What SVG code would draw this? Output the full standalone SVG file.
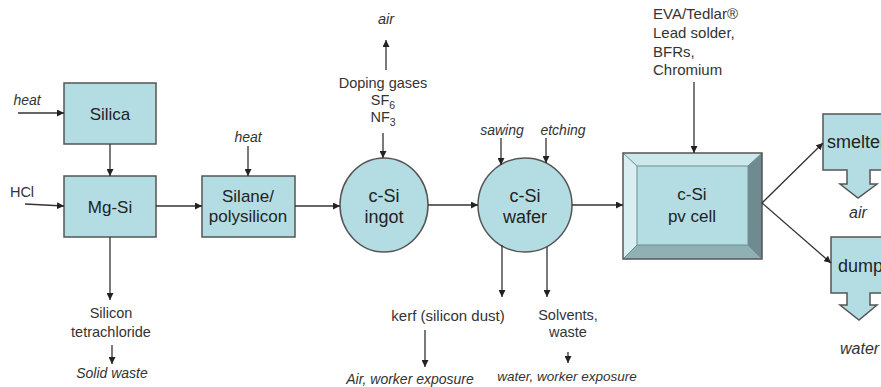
<svg xmlns="http://www.w3.org/2000/svg" width="881" height="387" viewBox="0 0 881 387">
<defs>
<marker id="ah" viewBox="0 0 10 10" refX="10" refY="5" markerWidth="7" markerHeight="7" orient="auto" markerUnits="userSpaceOnUse">
<path d="M0,0 L10,5 L0,10 z" fill="#222"/>
</marker>
<style>
.box{fill:#b3dde2;stroke:#555;stroke-width:1.5}
.lbl{font-family:"Liberation Sans",Arial,sans-serif;font-size:17px;fill:#222;text-anchor:middle}
.t{font-family:"Liberation Sans",Arial,sans-serif;font-size:14.5px;fill:#333;text-anchor:middle}
.i{font-style:italic}
.s{text-anchor:start}
.c{stroke:#333;stroke-width:1.3;fill:none;marker-end:url(#ah)}
</style>
</defs>
<rect width="881" height="387" fill="#fff"/>
<g id="silica"><rect class="box" x="64" y="83" width="92" height="61"/><text class="lbl" x="110" y="120">Silica</text></g>
<g id="mgsi"><rect class="box" x="64" y="176" width="92" height="61"/><text class="lbl" x="110" y="213">Mg-Si</text></g>
<g id="silane"><rect class="box" x="202" y="176" width="93" height="61"/><text class="lbl" x="248" y="202">Silane/</text><text class="lbl" x="248" y="222">polysilicon</text></g>
<g id="ingot"><ellipse class="box" cx="384" cy="205" rx="44" ry="47"/><text class="lbl" x="384" y="202" style="font-size:18px">c-Si</text><text class="lbl" x="384" y="223" style="font-size:18px">ingot</text></g>
<g id="wafer"><ellipse class="box" cx="525" cy="205" rx="47" ry="47"/><text class="lbl" x="525" y="202" style="font-size:18px">c-Si</text><text class="lbl" x="525" y="223" style="font-size:18px">wafer</text></g>
<g id="pvcell">
<rect x="623" y="153" width="139" height="106" fill="#b3dde2"/>
<polygon points="623,153 762,153 748,166 637,166" fill="#cde8eb"/>
<polygon points="623,153 637,166 637,245 623,259" fill="#d9eef0"/>
<polygon points="762,153 762,259 748,245 748,166" fill="#6e8c8f"/>
<polygon points="623,259 637,245 748,245 762,259" fill="#8fb1b4"/>
<rect x="637" y="166" width="111" height="79" fill="#b3dde2" stroke="#6f8e91" stroke-width="1"/>
<path d="M623,153 L637,166 M762,153 L748,166 M623,259 L637,245 M762,259 L748,245" stroke="#6f8e91" stroke-width="1"/>
<rect x="623" y="153" width="139" height="106" fill="none" stroke="#555" stroke-width="1.5"/>
<text class="lbl" x="692" y="200">c-Si</text><text class="lbl" x="692" y="222">pv cell</text>
</g>
<g id="smelter"><path class="box" d="M823,114 H900 V170 H870 V184 H877 L858,198 L840,184 H847 V170 H823 Z"/><text class="lbl s" x="827" y="148" style="font-size:18px">smelter</text></g>
<g id="dump"><path class="box" d="M831,237 H900 V293 H870 V305 H877 L859,320 L840,305 H847 V293 H831 Z"/><text class="lbl s" x="838" y="272" style="font-size:18px">dump</text></g>
<g id="labels">
<text class="t i" x="27" y="105" style="font-size:14px">heat</text>
<text class="t" x="22" y="197">HCl</text>
<text class="t i" x="248" y="142" style="font-size:14px">heat</text>
<text class="t" x="111" y="318">Silicon</text>
<text class="t" x="111" y="337">tetrachloride</text>
<text class="t i" x="112" y="378" style="font-size:14px">Solid waste</text>
<text class="t i" x="386" y="24">air</text>
<text class="t" x="383" y="88">Doping gases</text>
<text class="t" x="383" y="105">SF<tspan font-size="10.5" dy="4">6</tspan></text>
<text class="t" x="383" y="122">NF<tspan font-size="10.5" dy="4">3</tspan></text>
<text class="t i" x="502" y="135" style="font-size:14px">sawing</text>
<text class="t i" x="563" y="135" style="font-size:14px">etching</text>
<text class="t" x="448" y="321" style="font-size:15px">kerf (silicon dust)</text>
<text class="t" x="568" y="320">Solvents,</text>
<text class="t" x="568" y="337">waste</text>
<text class="t i" x="410" y="384" style="font-size:14px">Air, worker exposure</text>
<text class="t i" x="567" y="381" style="font-size:13.5px">water, worker exposure</text>
<text class="t s" x="653" y="19" style="font-size:15px">EVA/Tedlar®</text>
<text class="t s" x="653" y="38" style="font-size:15px">Lead solder,</text>
<text class="t s" x="653" y="57" style="font-size:15px">BFRs,</text>
<text class="t s" x="653" y="75" style="font-size:15px">Chromium</text>
<text class="t i" x="858" y="218" style="font-size:16px">air</text>
<text class="t i s" x="840" y="354" style="font-size:16px">water</text>
</g>
<g id="connectors">
<line class="c" x1="18" y1="113" x2="64" y2="113"/>
<line class="c" x1="25" y1="204" x2="64" y2="206"/>
<line class="c" x1="110" y1="144" x2="110" y2="176"/>
<line class="c" x1="156" y1="206" x2="202" y2="206"/>
<line class="c" x1="248" y1="146" x2="248" y2="176"/>
<line class="c" x1="110" y1="237" x2="110" y2="300"/>
<line class="c" x1="112" y1="345" x2="112" y2="364"/>
<line class="c" x1="295" y1="206" x2="340" y2="206"/>
<line class="c" x1="386" y1="70" x2="386" y2="40"/>
<line class="c" x1="383" y1="133" x2="383" y2="158"/>
<line class="c" x1="428" y1="205" x2="478" y2="205"/>
<line class="c" x1="501" y1="138" x2="501" y2="165"/>
<line class="c" x1="546" y1="138" x2="546" y2="163"/>
<line class="c" x1="502" y1="245" x2="502" y2="297"/>
<line class="c" x1="547" y1="247" x2="547" y2="297"/>
<line class="c" x1="425" y1="330" x2="425" y2="367"/>
<line class="c" x1="568" y1="352" x2="568" y2="363"/>
<line class="c" x1="572" y1="205" x2="623" y2="205"/>
<line class="c" x1="694" y1="82" x2="694" y2="153"/>
<line class="c" x1="762" y1="203" x2="823" y2="143"/>
<line class="c" x1="762" y1="203" x2="831" y2="263"/>
</g>
</svg>
